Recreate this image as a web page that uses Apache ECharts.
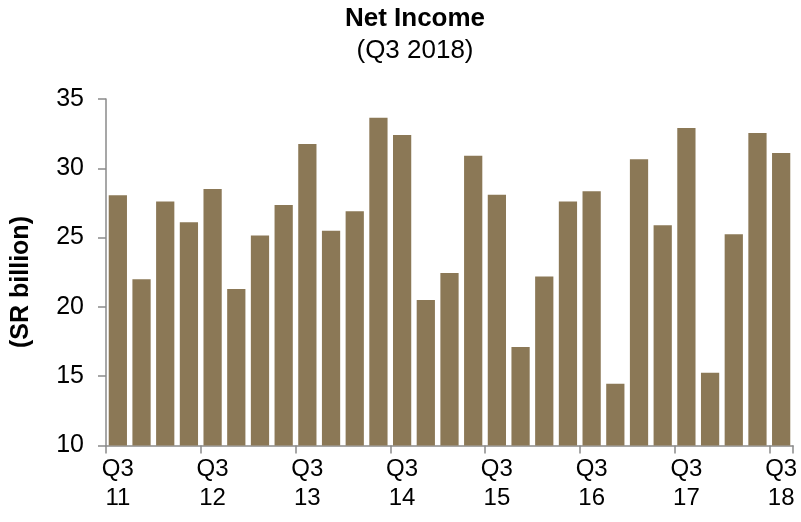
<!DOCTYPE html>
<html><head><meta charset="utf-8">
<script src="https://cdn.jsdelivr.net/npm/echarts@6/dist/echarts.min.js"></script>
<style>html,body{margin:0;padding:0;background:#fff}#c{width:801px;height:522px}</style>
</head><body><div id="c"></div>
<script>
const categories = ["Q3 11","Q4 11","Q1 12","Q2 12","Q3 12","Q4 12","Q1 13","Q2 13","Q3 13","Q4 13","Q1 14","Q2 14","Q3 14","Q4 14","Q1 15","Q2 15","Q3 15","Q4 15","Q1 16","Q2 16","Q3 16","Q4 16","Q1 17","Q2 17","Q3 17","Q4 17","Q1 18","Q2 18","Q3 18"];
const netIncome = [28.05,22.0,27.6,26.1,28.5,21.3,25.15,27.35,31.75,25.5,26.9,33.65,32.4,20.5,22.45,30.9,28.1,17.1,22.2,27.6,28.35,14.45,30.65,25.9,32.9,15.25,25.25,32.55,31.1];
const yTicks = [10,15,20,25,30,35];
const titleText = "Net Income";
const subTitleText = "(Q3 2018)";
const yName = "(SR billion)";

const chart = echarts.init(document.getElementById('c'), null, {renderer:'canvas'});
const font = 'Liberation Sans, Arial, sans-serif';
const axisColor = '#8a8a8a';
chart.setOption({
  animation:false,
  backgroundColor:'#fff',
  grid:{left:106,right:8,top:99,bottom:76.5,containLabel:false},
  xAxis:{
    type:'category',data:categories,boundaryGap:true,
    axisLine:{lineStyle:{color:axisColor,width:1.5}},
    axisTick:{show:true,length:8,interval:(i)=>i%4===0,lineStyle:{color:axisColor,width:1.5}},
    axisLabel:{interval:(i)=>i%4===0,formatter:(v)=>{const p=v.split(' ');return p[0]+'\n'+p[1];},
      fontFamily:font,fontSize:24,color:'#000',lineHeight:29,margin:9}
  },
  yAxis:{
    type:'value',min:yTicks[0],max:yTicks[yTicks.length-1],interval:5,
    splitLine:{show:false},
    axisLine:{show:true,lineStyle:{color:axisColor,width:1.5}},
    axisTick:{show:true,length:8,lineStyle:{color:axisColor,width:1.5}},
    axisLabel:{fontFamily:font,fontSize:25,color:'#000',margin:22}
  },
  graphic:[
    {type:'text',x:415,y:19,style:{text:titleText,fontFamily:font,fontSize:26,fontWeight:'bold',fill:'#000',textAlign:'center',textVerticalAlign:'middle'}},
    {type:'text',x:415,y:51,style:{text:subTitleText,fontFamily:font,fontSize:26,fill:'#000',textAlign:'center',textVerticalAlign:'middle'}},
    {type:'text',x:21,y:282,rotation:Math.PI/2,
    style:{text:yName,fontFamily:font,fontSize:25,fontWeight:'bold',fill:'#000',textAlign:'center',textVerticalAlign:'middle'}}],
  series:[{type:'bar',data:netIncome,barCategoryGap:'23%',
    itemStyle:{color:'#8b7856'}}]
});
</script></body></html>
